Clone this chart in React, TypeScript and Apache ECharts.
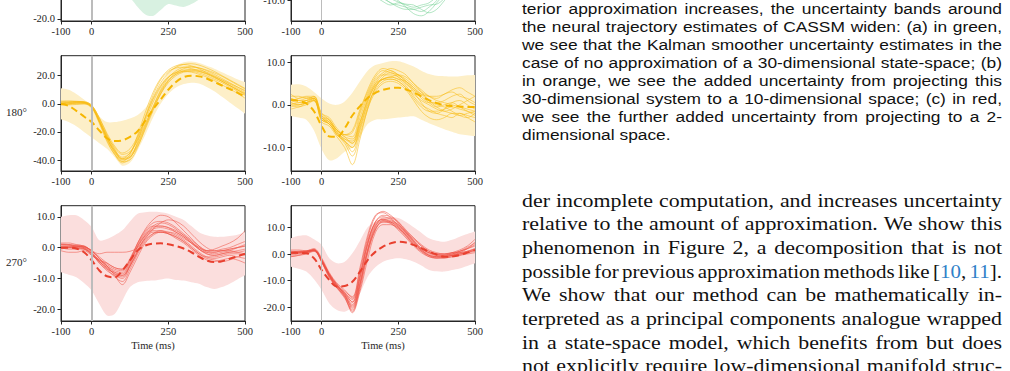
import React, { useEffect, useRef } from "react";
import * as echarts from "echarts";

// ---------- data ----------
const T = [-100, -75, -50, -25, 0, 25, 50, 75, 100, 125, 150, 175, 200, 225, 250, 275, 300, 325, 350, 375, 400, 425, 450, 475, 500];
const X_TICKS = [-100, 0, 250, 500];

// top-left (green, mostly cut off)
const tlLower = [-8, -8, -8, -8.5, -9, -10, -11, -11.5, -12, -13, -16, -18.5, -19, -17, -15, -15.5, -16, -15, -13.5, -11, -9, -8, -7, -6.5, -6];
const tlUpper = [8, 8, 8, 7.5, 7, 6, 5, 5, 5.5, 6.5, 8, 9, 10, 11, 12, 12, 12, 11.5, 11, 10, 9, 8, 7, 6.5, 6];
const tlMean = [0, 0, 0, -0.5, -1, -2, -3, -3, -3, -3, -4, -4.5, -4.5, -3, -1.5, -1.7, -2, -2, -1.5, -0.5, 0, 0, 0, 0, 0];
const tlTraj = [
  [0, 0.5, 0.5, 0, -1, -2, -3.5, -4, -3.5, -3, -4, -5.5, -6, -4, -2, -2, -2.5, -2.5, -2, -1, 0, 0.5, 0.5, 0.5, 0.5],
  [0.5, 0, 0, -0.5, -1.5, -2.5, -3, -2.5, -2.5, -3, -4.5, -5, -4.5, -3, -1.5, -1.5, -2, -1.5, -1, 0, 0.5, 0, -0.5, -0.5, 0],
  [-0.5, -0.5, 0, -0.5, -0.5, -1.5, -2.5, -3, -3, -3.5, -4, -4.5, -4, -2.5, -1, -1.5, -2, -2, -1.5, -0.5, 0, 0, 0, 0.5, 0.5],
];

// top-right (green, mostly cut off)
const trLower = [-5, -5, -5, -5.5, -6, -6.5, -7, -7.5, -8, -8.5, -8.8, -9, -9.1, -9.2, -9.3, -9.3, -9.4, -9.4, -9.3, -9, -8.5, -8, -7.5, -7, -6.5];
const trUpper = [6, 6, 6, 5.5, 5, 4.5, 4, 3.5, 3, 2.5, 2, 1.5, 1, 0.5, 0, -0.3, -0.5, -0.5, 0, 1, 2, 3, 4, 4.5, 5];
const trMean = [0, 0, 0, -0.5, -1, -2, -3, -3.5, -4, -4.5, -5, -5.5, -6, -6.5, -7, -7.3, -7.5, -7.5, -7, -6, -5, -4, -3, -2.5, -2];
const trTraj = [
  [0, 0.5, 0.5, 0, -1, -2, -3, -4, -5, -5.5, -5.5, -6, -9, -10.5, -11, -11.5, -12, -12.5, -11.5, -10, -8, -6, -4, -3, -2],
  [0.5, 0.5, 0, 0, -1.5, -2.5, -3, -3.5, -4, -5, -6, -7, -8, -9, -10, -11.5, -13, -13.5, -12.5, -10.5, -8.5, -6.5, -5, -4, -3],
  [-0.5, 0, 0, -0.5, -1, -2, -3, -4.5, -5.5, -6.5, -7.5, -9, -10.2, -11, -10.5, -11, -11.5, -11, -10.5, -9, -7, -5.5, -4, -3, -2.5],
  [0, 0, 0.5, 0.5, -0.5, -1.5, -2.5, -3.5, -4.5, -5.5, -7, -8.5, -9.5, -10.5, -11.5, -12, -12, -11.5, -11, -10.8, -9.5, -7.5, -6, -5, -4],
  [1, 1, 0.5, 0, -1, -2, -3.5, -4.5, -5, -5.5, -6.5, -7.5, -8.5, -9.5, -10.3, -10.8, -11, -12, -12.8, -12, -10, -8, -6, -4.5, -3.5],
  [0, -0.5, -0.5, -1, -2, -3, -4, -5, -5.5, -6, -6.5, -7, -7.5, -8, -8.5, -9, -9.5, -9.5, -9, -8, -6.5, -5, -4, -3, -2],
];

// 180° left (orange)
const mlLower = [-11, -13, -16, -20, -24, -28, -32, -38, -44, -42, -33, -22, -10, 0, 7, 11.5, 14, 15, 14.5, 12, 9, 5, 1, -3, -7];
const mlUpper = [11, 10, 7, 3, -2, -9, -13, -13, -12, -10.5, -8, -3, 5, 14, 22, 27, 29.5, 30, 29, 27, 25, 22.5, 20, 17.5, 15.5];
const mlMean = [0, -1.5, -5, -9, -13, -19, -24.5, -26.5, -26, -23.5, -19.5, -12, -4, 3, 10, 15.5, 19, 20, 19.5, 18, 15.5, 13, 10.5, 8, 5];
const mlTraj = [
  [0.5, 0.8, 0.8, 0.5, -2, -12, -24, -33, -38, -35, -25, -12, 1, 12, 19, 22.5, 24, 24, 23, 21, 18.5, 16, 13, 10, 7],
  [1.5, 1.8, 1.5, 1.0, -1.5, -10, -22, -32, -39, -37, -28, -15, -2, 9, 17, 22, 25, 26, 25.5, 24, 22, 19.5, 16.5, 13.5, 10.5],
  [-0.5, -0.3, 0, 0, -2.5, -13, -26, -36, -42, -39, -27, -10, 4, 15, 22, 26, 28, 28.5, 27.5, 25.5, 23, 20, 17, 14, 11],
  [0, 0.5, 1, 1.2, -1, -11, -23, -31, -36, -34, -26, -14, -3, 7, 15, 20, 22.5, 23, 22, 20, 17.5, 15, 12, 9, 6],
  [1, 1.2, 1.5, 1.2, -2, -13, -25, -34, -40, -38, -30, -18, -5, 7, 16, 21, 23.5, 24.5, 24, 22.5, 20, 17, 14, 11, 8],
  [-1, -0.8, -0.5, 0, -3, -14, -27, -36, -41, -36, -22, -6, 8, 18, 24, 27, 28, 27, 25, 22, 19, 16, 13, 10, 7.5],
  [0.5, 1, 1.5, 1.5, -1, -10, -21, -30, -35, -32, -23, -10, 3, 13, 19, 22, 23, 22.5, 21, 19, 16.5, 13.5, 10.5, 7.5, 4],
  [2, 2, 1.8, 1.2, -1.5, -12, -24, -35, -41, -40, -31, -17, -3, 10, 18.5, 23.5, 26, 26.5, 25.5, 23.5, 21, 18, 15, 12, 9],
  [0, 0, 0.5, 0.8, -2, -12.5, -25, -34, -39, -35, -24, -9, 6, 17, 23, 25.5, 26, 25, 23.5, 21.5, 19, 16, 13, 10, 6.5],
  [-0.5, 0, 0.5, 0.5, -2.5, -12, -23, -33, -39.5, -38, -29, -16, -4, 8, 16.5, 21, 23, 23.5, 23, 21.5, 19.5, 17, 14.5, 12, 9.5],
];

// 180° right (orange)
const mrLower = [-2.6, -3, -3.5, -6, -10.4, -13, -12.5, -11, -10, -7.5, -4.5, -3.5, -3.4, -3.2, -3, -2.8, -2.7, -3.5, -4.3, -5, -5.7, -6.3, -6.9, -7.1, -7.3];
const mrUpper = [4.7, 4.8, 4.3, 3, 1.5, 0.3, 0, 0.8, 2.8, 5.5, 8, 9.3, 9.8, 10.2, 10.2, 9.7, 9, 8, 7.2, 6.8, 6.7, 6.6, 6.7, 6.9, 7];
const mrMean = [1.1, 0.9, 0.3, -1.5, -5, -7.4, -7.5, -5.5, -2.5, -0.3, 1.6, 2.8, 3.5, 3.9, 4, 3.6, 2.9, 2, 1.1, 0.4, -0.1, -0.3, -0.4, -0.5, -0.5];
const mrTraj = [
  [2.5, 1.5, 1.8, 1.2, -2.5, -3.5, -6, -7.5, -9, -4, 1, 5, 7, 8, 7, 5.5, 3.5, 1.5, 0.5, 0.5, 1, 2, 2.5, 1, 0],
  [0, -0.5, 0.5, 1.5, -3.5, -4.5, -7, -9, -12, -7, -1, 4, 6, 6.5, 6, 4.5, 2, 0, -1, -2, -2.5, -3, -2, -2.5, -3],
  [1, 1.5, 2, 2, -2, -3, -5.5, -7, -6, -1, 3, 6.5, 8, 7.5, 7, 6, 4.5, 3, 2, 1.5, 2.5, 3, 2, 1.5, 0.5],
  [-0.5, 0, 0.5, 1, -4, -5, -7.5, -10, -14, -8, -1, 3, 5, 5.5, 5, 3.5, 1, -1.5, -3, -3.5, -3, -2, -2, -3, -4],
  [1.5, 1, 1.5, 1.8, -3, -4, -6, -7, -7.5, -2, 2.5, 6, 7.5, 8.5, 8, 7, 5, 3.5, 2, 1, 0.5, 0, -0.5, -1, -1.5],
  [0.5, 0, 0.5, 1, -3, -4.5, -6.5, -8.5, -10, -5, 0, 3.5, 5.5, 6, 5.5, 4, 2.5, 1, 0, -1, -1.5, -1, 0, 1, 2],
  [2, 2, 1.5, 1.5, -2, -3.5, -6, -7.5, -8, -4, 1.5, 5, 6, 6.5, 7, 6.5, 5, 3, 1, -0.5, -1.5, -2, -2.5, -2, -1.5],
  [-1, -0.5, 0, 1, -3.5, -4, -7, -8.5, -11, -6, -0.5, 4, 6.5, 7.5, 6.5, 5, 3, 0.5, -1.5, -2, -1, 0.5, 1, 0, -1],
  [1, 0.5, 1, 2, -2.5, -4, -6, -7, -6.5, -1.5, 3.5, 7, 8.5, 8, 7, 5.5, 4, 2.5, 1, 0, -0.5, -1.5, -2.5, -3, -2],
  [0, 0.5, 1, 1.5, -3, -4.5, -6.5, -8, -9, -4.5, 1, 4.5, 6, 6.5, 6, 5.5, 4, 2, 0.5, -0.5, 0, 0.5, -0.5, -1.5, -2.5],
  [1.5, 1, 1, 1.5, -3, -3.5, -6.5, -8, -8.5, -3, 2, 5.5, 7, 7, 6.5, 5, 3.5, 2.5, 2, 2, 2.5, 3.5, 4, 3, 2],
  [0.5, 0, 0.5, 1.2, -3.5, -4.5, -7, -8.5, -10, -5.5, 0.5, 4.5, 6, 6, 5.5, 4, 1.5, -0.5, -1.5, -1.5, -1, -0.5, -1, -1.5, -2],
];

// 270° left (red)
const blLower = [-8, -8.8, -9.6, -11.5, -13.9, -18.3, -22, -21.5, -17.2, -12.8, -11.2, -10.8, -10.7, -10.3, -10, -10.5, -10.7, -11.2, -11.7, -12.8, -13.4, -12.8, -11.7, -10.3, -9];
const blUpper = [10, 10.5, 10.5, 9, 6.7, 2.4, 2.8, 4, 5.6, 8.5, 11, 11.5, 11.6, 11.5, 11, 10, 9, 7, 5, 4, 3.5, 3.5, 3.8, 4.2, 5];
const blMean = [0, 0, -0.3, -1.5, -4.1, -7.4, -9.3, -9.6, -7.4, -4.1, -0.9, 0.7, 1.3, 1.4, 1.1, 0.5, -0.3, -1.5, -3, -4.2, -4.7, -4.4, -3.6, -2.8, -2];
const blTraj = [
  [1, 1, 0.5, 0.3, -1, -3.5, -5.5, -7, -7.5, -4, 1, 5, 7, 7, 6.5, 5, 3.5, 1.5, -0.5, -1.5, -1.5, -1, -0.5, 0, 0.5],
  [0, -0.5, -0.5, -0.5, -2.5, -4.5, -7, -9.5, -11, -7, -2, 2, 4.5, 5.5, 5, 4, 2.5, 0.5, -1.5, -3, -3.5, -3, -2.5, -3, -3.5],
  [1.5, 1.5, 1, 0.5, -1, -2, -1.5, -1.5, -1.5, -1.2, 0, 3, 6, 8, 9, 8.5, 7, 4.5, 2, 0, -1, -1, -0.5, 0, 0.5],
  [0.5, 0.5, 0.3, 0, -2, -5, -7.5, -9, -10, -6, -1, 3.5, 5.5, 5.5, 4.5, 3, 1.5, -0.5, -2.5, -4, -4.5, -4, -3.5, -4, -5],
  [-0.5, 0, 0, -0.3, -2, -4, -6, -8, -9, -5.5, 0.5, 4.5, 7, 8, 7.5, 6, 4, 2, 0, -1.5, -2, -1.5, -1, 0, 1],
  [0, 0, 0.5, 0.5, -1.5, -4, -5, -6.5, -7, -4, 1.5, 6, 9, 10.5, 10, 8, 5.5, 3, 0.5, -1, -1, -0.5, 0, 1, 2],
  [1, 0.8, 0.5, 0, -1.5, -4.5, -6.5, -8.5, -9.5, -6, -1, 3, 5, 5, 4.5, 3.5, 2, 0, -2, -3, -3, -2.5, -2, -2, -2.5],
  [-1, -1.5, -1.5, -1, -2.5, -4, -6, -7.5, -8, -4.5, 0.5, 4, 6.5, 7, 6.5, 5.5, 4, 2, -0.5, -2, -2.5, -2, -1.5, -1.5, -1],
  [0.5, 0.5, 0.5, 0.2, -1, -3.5, -6, -9, -12, -8, -3, 1.5, 4, 5, 5, 4.5, 3, 1.5, 0, -1, -0.5, 0.5, 1.5, 3, 5.5],
  [0, 0.3, 0, -0.3, -2, -5, -7, -8, -8.5, -5, 0, 4, 6, 6.5, 6, 5, 3.5, 1.5, -0.5, -2, -2.5, -2, -1.5, -1, -0.5],
  [1.2, 1, 0.8, 0.5, -1, -3, -5, -6.5, -7, -3.5, 1.5, 5.5, 8, 8.5, 8, 6.5, 4.5, 2.5, 0.5, -1, -1.5, -1, -1, -1.5, -2],
  [0.3, 0, -0.2, -0.5, -2, -4.5, -6.5, -8.5, -9, -6, -1.5, 2.5, 4.5, 5, 4.5, 3.5, 2, 0, -2, -3.5, -4, -4.5, -4, -3, -2],
];

// 270° right (red)
const brLower = [-4.75, -5.5, -6.6, -9.5, -13.5, -18.5, -21, -21.6, -19.75, -14.75, -8.5, -5, -2.9, -2, -1.6, -2, -2.9, -4.3, -6, -6.5, -6.6, -6, -5.4, -4.5, -3.5];
const brUpper = [5.9, 6.8, 7, 5.5, 3.4, -1.6, -3.5, -2.9, 0.25, 5, 10, 12.2, 13.4, 13.7, 13.5, 12, 10, 8, 5.9, 5, 4.6, 5.3, 6.5, 7.5, 8.4];
const brMean = [0.5, 0.4, 0.25, -1.6, -6, -9.75, -12.25, -12, -10.4, -6.6, -2.25, 0.8, 2.75, 4, 4.6, 4.3, 3.4, 2.2, 0.9, -0.2, -1, -0.9, -0.4, 0.5, 1.5];
const brTraj = [
  [0.5, 1, 1, 1.5, -2, -7.5, -11.5, -14.5, -18, -8, 4, 12, 14, 13, 11, 8, 5, 2, 0.5, -0.5, -0.5, 0, 1, 2, 3],
  [-1, -0.5, 0, 1, -3, -9, -12.5, -16, -21, -13, 0, 9, 12, 11.5, 9.5, 6.5, 3.5, 1, -1, -1.5, -1.5, -1, -0.5, 0, 0.5],
  [1, 1, 1.2, 2, -1.5, -7, -11, -13.5, -16.5, -6, 6, 14, 16, 14.5, 12, 8.5, 5, 2, 0.5, 0, 0, 0.5, 1, 2, 3.5],
  [0, 0.3, 0.5, 1.2, -3, -8.5, -12.5, -16, -22, -14, -2, 8, 11, 11, 9.5, 7, 4, 1.5, -0.5, -1.5, -1.5, -1, -0.5, 0.5, 1.5],
  [0.5, 0.8, 1, 1.5, -2.5, -8, -12, -15, -19, -9, 4, 12, 14.5, 14, 12, 9, 6, 3, 1, 0, -0.5, 0, 1, 2.5, 4],
  [-0.5, 0, 0.5, 1.3, -2.8, -8.2, -12, -14.5, -17, -7.5, 5, 11.5, 13, 12, 10, 7, 4, 1.5, 0, -1, -1, -0.5, 0, 1, 2],
  [1.5, 1.5, 1.2, 1.8, -2, -7.5, -11.5, -15.5, -20, -11, 1.5, 10, 13.5, 13.5, 11.5, 8, 4.5, 1.5, -0.5, -1, -1, -0.5, 0.5, 2, 4.5],
  [0, 0.5, 1, 1.5, -2.5, -8, -12.5, -15.5, -19.5, -10.5, 2, 10.5, 12.5, 11.5, 9, 6, 3, 0.5, -1, -1.5, -1, -0.5, 0, 0.5, 1],
  [-1, -0.5, 0.3, 1.2, -2.5, -7.5, -11.5, -14, -16, -5, 7, 14.5, 15.5, 13.5, 10.5, 7.5, 4.5, 2, 0.5, -0.5, -0.5, 0.5, 1.5, 3, 5.5],
  [0.5, 0.5, 0.8, 1.5, -2.8, -8.5, -12.8, -16.5, -21.5, -12, 1, 9.5, 12, 12, 10.5, 8, 5.5, 3, 1, 0, 0, 0.5, 0.5, 1, 1.5],
  [0, 0.5, 0.8, 1.5, -2.3, -7.8, -11.8, -14.8, -18, -9, 3.5, 11, 13, 12.5, 11, 8.5, 6, 3.5, 1.5, 0.5, 0, 0, 0.5, 1, 2],
  [1, 0.8, 0.8, 1.5, -2.5, -8.2, -12.2, -15.2, -20.5, -11.5, 1, 9, 12.5, 12, 10, 7, 3.5, 1, -0.5, -1, -1, -0.5, 0, 0.5, 1.5],
];

// y ticks per panel
const tlYTicks = [-20, 0];
const trYTicks = [-10, 0, 10];
const mlYTicks = [-40, -20, 0, 20];
const mrYTicks = [-10, 0, 10];
const blYTicks = [-20, -10, 0, 10];
const brYTicks = [-20, -10, 0, 10];

const ROW_LABELS = ["180°", "270°"];
const X_NAME = "Time (ms)";

const CAPTION_LINES = [
  "terior approximation increases, the uncertainty bands around",
  "the neural trajectory estimates of CASSM widen: (a) in green,",
  "we see that the Kalman smoother uncertainty estimates in the",
  "case of no approximation of a 30-dimensional state-space; (b)",
  "in orange, we see the added uncertainty from projecting this",
  "30-dimensional system to a 10-dimensional space; (c) in red,",
  "we see the further added uncertainty from projecting to a 2-",
  "dimensional space.",
];
const BODY_LINES = [
  "der incomplete computation, and increases uncertainty",
  "relative to the amount of approximation. We show this",
  "phenomenon in Figure 2, a decomposition that is not",
  "possible for previous approximation methods like [#10#, #11#].",
  "We show that our method can be mathematically in-",
  "terpreted as a principal components analogue wrapped",
  "in a state-space model, which benefits from but does",
  "not explicitly require low-dimensional manifold struc-",
];

// ---------- styling ----------
const OFF = 100; // container shifted up by this much
const GREEN = { line: "#74d193", band: "#d8f1e1", mean: "#4cbf72" };
const ORANGE = { line: "#f8bb10", band: "#fdefc8", mean: "#f6b600" };
const RED = { line: "#ee5043", band: "#fbdedd", mean: "#e8402f" };
const SERIF = "Liberation Serif";
const AX = "#262626";
const LINK = "#2f80c8";

const PANELS = [
  { left: 61, top: 21 - 115.3, ymin: -20.7, ymax: 18, yt: tlYTicks, c: GREEN, lo: tlLower, hi: tlUpper, mean: tlMean, traj: tlTraj, zw: 2, bottom: false },
  { left: 291, top: 21 - 115.3, ymin: -14.7, ymax: 12, yt: trYTicks, c: GREEN, lo: trLower, hi: trUpper, mean: trMean, traj: trTraj, zw: 1, bottom: false },
  { left: 61, top: 55.7, ymin: -47.8, ymax: 34.2, yt: mlYTicks, c: ORANGE, lo: mlLower, hi: mlUpper, mean: mlMean, traj: mlTraj, zw: 2, bottom: false },
  { left: 291, top: 55.7, ymin: -15.5, ymax: 11.5, yt: mrYTicks, c: ORANGE, lo: mrLower, hi: mrUpper, mean: mrMean, traj: mrTraj, zw: 1, bottom: false },
  { left: 61, top: 205.7, ymin: -23.8, ymax: 13.6, yt: blYTicks, c: RED, lo: blLower, hi: blUpper, mean: blMean, traj: blTraj, zw: 2, bottom: true },
  { left: 291, top: 205.7, ymin: -25.1, ymax: 18.1, yt: brYTicks, c: RED, lo: brLower, hi: brUpper, mean: brMean, traj: brTraj, zw: 1, bottom: true },
];

// justified text: each word placed separately, glyphs stretched horizontally (scaleX)
function textBlock(
  lines: string[], fam: string, size: number, x0: number, width: number,
  y0: number, dy: number, lastRagged: boolean, color: string, maxScale: number
) {
  const ctx = document.createElement("canvas").getContext("2d")!;
  ctx.font = `${size}px "${fam}"`;
  const measure = (s: string) => ctx.measureText(s).width;
  const plain = (s: string) => s.replace(/#/g, "");
  const space = measure(" ");
  const justified = lines.filter((_, i) => !(lastRagged && i === lines.length - 1));
  const nats = justified.map((l) => measure(plain(l))).sort((a, b) => b - a);
  const ref = nats.length > 1 ? nats[1] : nats[0];
  const sxBase = Math.min(maxScale, (0.995 * width) / ref);
  const els: any[] = [];
  lines.forEach((line, li) => {
    const words = line.split(" ");
    const ragged = lastRagged && li === lines.length - 1;
    const nat = words.map((w) => measure(plain(w)));
    const natTotal = nat.reduce((a, b) => a + b, 0);
    const n = Math.max(1, words.length - 1);
    // compress a line that would otherwise have too-small gaps
    const sx = ragged ? sxBase : Math.min(sxBase, (width - 0.7 * space * n) / natTotal);
    const ws = nat.map((w) => w * sx);
    const total = ws.reduce((a, b) => a + b, 0);
    const gap = ragged || words.length < 2 ? space * sx : (width - total) / n;
    let x = x0;
    words.forEach((w, wi) => {
      const segs = w.split("#");
      let px = x;
      segs.forEach((seg, si) => {
        if (seg) {
          els.push({
            type: "text", x: px, y: y0 + li * dy, scaleX: sx, silent: true,
            style: { text: seg, fontSize: size, fontFamily: fam, fill: si % 2 ? LINK : color, align: "left", verticalAlign: "middle" },
          });
        }
        px += measure(seg) * sx;
      });
      x += ws[wi] + gap;
    });
  });
  return els;
}

export default function App() {
  const ref = useRef<HTMLDivElement>(null);
  useEffect(() => {
    const chart = echarts.init(ref.current!, null, { renderer: "svg" });
    const grid: any[] = [];
    const xAxis: any[] = [];
    const yAxis: any[] = [];
    const series: any[] = [];
    const fmt = (v: any) => Number(v).toFixed(1);

    PANELS.forEach((p, i) => {
      grid.push({ left: p.left, top: p.top + OFF, width: 184, height: 115.3, show: true, borderColor: AX, borderWidth: 1, backgroundColor: "rgba(0,0,0,0)" });
      xAxis.push({
        gridIndex: i, type: "value", min: -100, max: 500,
        axisLine: { show: true, onZero: false, lineStyle: { color: AX, width: 1 } },
        axisTick: { show: true, customValues: X_TICKS, length: 3.5, lineStyle: { color: AX } },
        axisLabel: { customValues: X_TICKS, fontFamily: SERIF, fontSize: 10.5, color: AX, margin: 5 },
        splitLine: { show: false },
        name: p.bottom ? X_NAME : "",
        nameLocation: "middle", nameGap: 19,
        nameTextStyle: { fontFamily: SERIF, fontSize: 10.5, color: AX },
      });
      yAxis.push({
        gridIndex: i, type: "value", min: p.ymin, max: p.ymax,
        axisLine: { show: true, onZero: false, lineStyle: { color: AX, width: 1 } },
        axisTick: { show: true, customValues: p.yt, length: 3.5, lineStyle: { color: AX } },
        axisLabel: { customValues: p.yt, formatter: fmt, fontFamily: SERIF, fontSize: 10.5, color: AX, margin: 6 },
        splitLine: { show: false },
      });
      const lo = p.lo, hi = p.hi, band = p.c.band;
      // uncertainty band drawn as a polygon through the axes' own scales
      series.push({
        type: "custom", coordinateSystem: "cartesian2d", xAxisIndex: i, yAxisIndex: i,
        silent: true, clip: true, animation: false,
        data: [[T[0], lo[0]]],
        renderItem: (params: any, api: any) => {
          if (params.dataIndex !== 0) return null;
          const top = T.map((t, k) => api.coord([t, hi[k]]));
          const bot = T.map((t, k) => api.coord([t, lo[k]])).reverse();
          const pts = [top[0], ...top, top[top.length - 1], bot[0], ...bot, bot[bot.length - 1]];
          return { type: "polygon", shape: { points: pts, smooth: 0.3 }, style: { fill: band } };
        },
      });
      const base = { xAxisIndex: i, yAxisIndex: i, type: "line", symbol: "none", smooth: 0.35, silent: true, animation: false };
      p.traj.forEach((tr, j) => {
        const s: any = {
          ...base, data: T.map((t, k) => [t, tr[k]]),
          lineStyle: { color: p.c.line, width: 0.9, opacity: 0.6 },
        };
        if (j === 0) {
          s.markLine = {
            silent: true, symbol: ["none", "none"], label: { show: false }, animation: false,
            lineStyle: { color: "#bcbcbc", width: p.zw, type: "solid", opacity: 1 },
            data: [{ xAxis: 0 }],
          };
        }
        series.push(s);
      });
      series.push({
        ...base, data: T.map((t, k) => [t, p.mean[k]]),
        lineStyle: { color: p.c.mean, width: 2, type: [7, 4] },
      });
    });

    const graphic: any[] = [];
    graphic.push({ type: "text", x: 16.5, y: 112 + OFF, silent: true, style: { text: ROW_LABELS[0], fontSize: 11, fontFamily: SERIF, fill: AX, align: "center", verticalAlign: "middle" } });
    graphic.push({ type: "text", x: 16.5, y: 262 + OFF, silent: true, style: { text: ROW_LABELS[1], fontSize: 11, fontFamily: SERIF, fill: AX, align: "center", verticalAlign: "middle" } });
    graphic.push(...textBlock(CAPTION_LINES, "Liberation Sans", 15.5, 522, 480, 8 + OFF, 18.1, true, "#111", 1.12));
    graphic.push(...textBlock(BODY_LINES, SERIF, 19.5, 522, 480, 200 + OFF, 23.7, false, "#111", 1.2));

    chart.setOption({
      animation: false,
      backgroundColor: "#ffffff",
      grid, xAxis, yAxis, series, graphic,
    });
    return () => chart.dispose();
  }, []);
  return <div ref={ref} style={{ position: "absolute", left: 0, top: -OFF, width: 1010, height: 371 + OFF }} />;
}
